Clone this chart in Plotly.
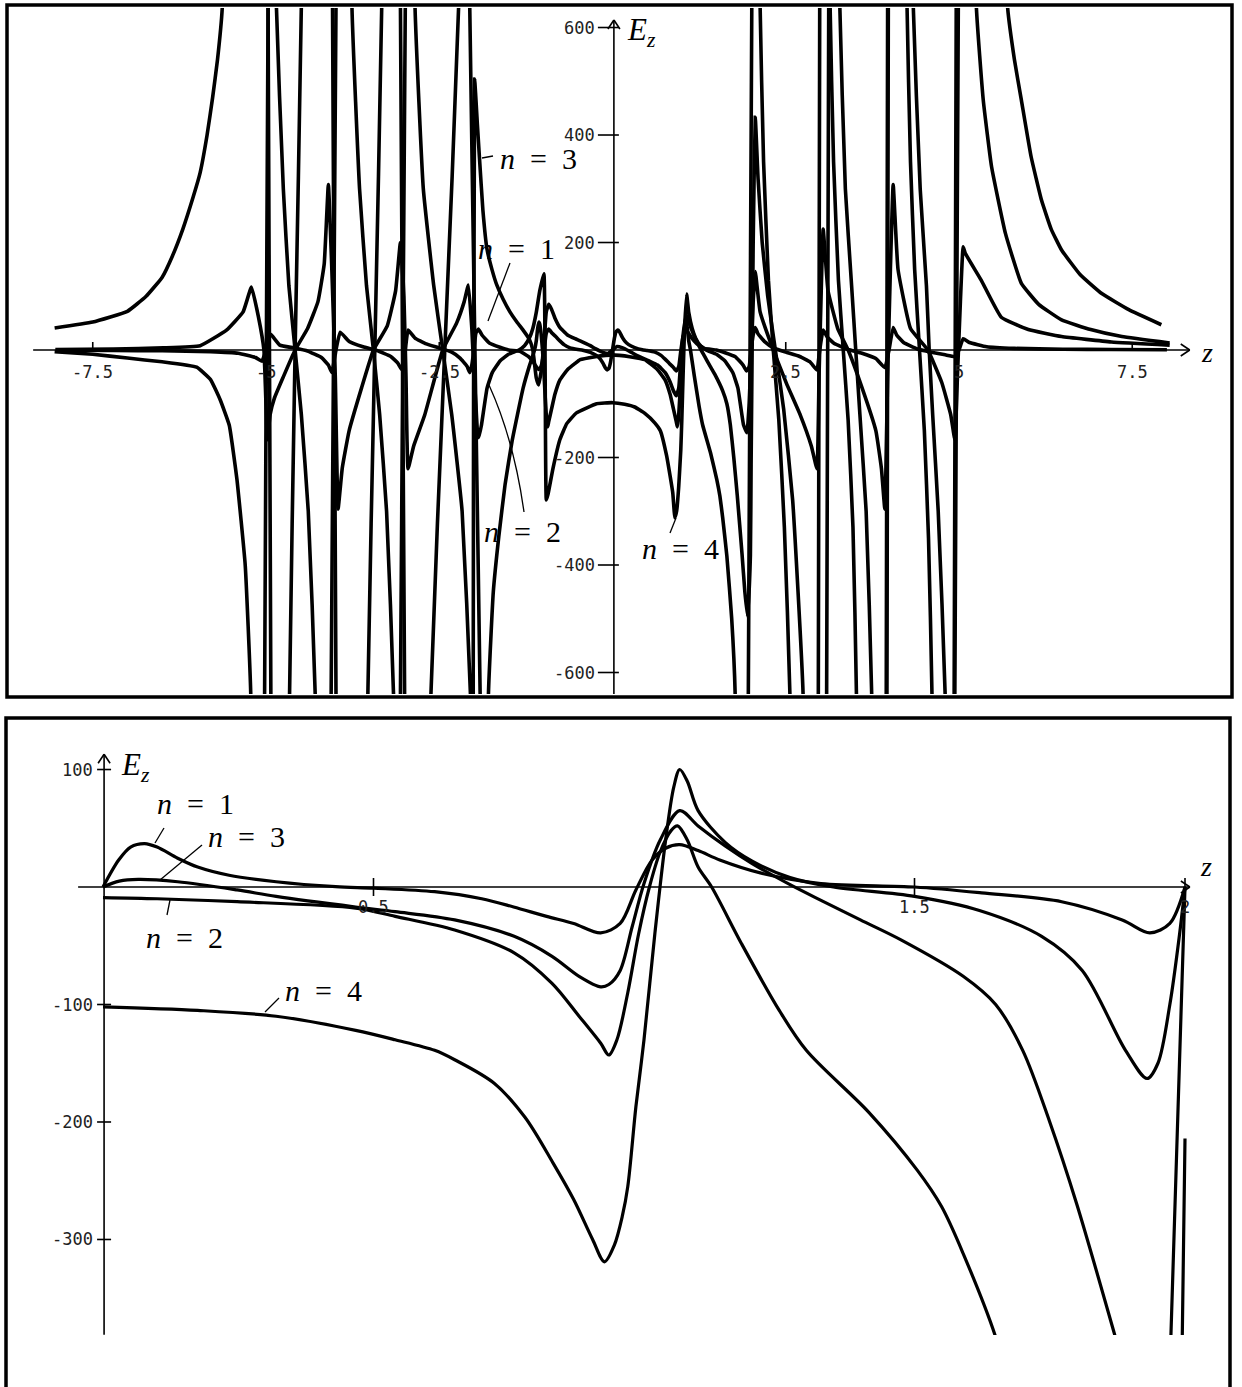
import plotly.graph_objects as go

W, H = 1242, 1387

# ---------------- TOP PANEL DATA (z, E_z) ----------------
top_n1 = [(-8.0,-0.5),(-7.2,-1),(-6.5,-1.5),(-5.8,-3),(-5.4,-6),(-5.15,-14),(-5.06,-21),(-5.0,0),(-4.94,30),(-4.8,9),(-4.6,4),(-4.4,-2),(-4.2,-14),(-4.1,-28),(-4.05,-42),(-3.99,0),(-3.93,33),(-3.8,16),(-3.6,6),(-3.4,-1),(-3.2,-12),(-3.1,-24),(-3.04,-37),(-2.99,0),(-2.95,37),(-2.85,22),(-2.7,12),(-2.5,4),(-2.32,-4),(-2.2,-15),(-2.1,-30),(-2.06,-42),(-2.03,-28),(-2.0,0),(-1.972,31),(-1.935,39),(-1.884,28),(-1.772,12.5),(-1.624,5),(-1.5,0),(-1.327,-3),(-1.215,-12),(-1.14,-23),(-1.10,-31),(-1.066,-36),(-1.04,-33),(-1.015,-23),(-0.985,2.5),(-0.956,31),(-0.92,39),(-0.87,31),(-0.82,25),(-0.759,17),(-0.70,10),(-0.613,4),(-0.5,1),(-0.43,-0.3),(-0.32,-4.5),(-0.233,-10),(-0.175,-17),(-0.138,-24.5),(-0.10,-34),(-0.077,-37),(-0.051,-34),(-0.029,-23),
(0,0),(0.029,23),(0.051,34),(0.077,37),(0.10,34),(0.138,24.5),(0.175,17),(0.233,10),(0.32,4.5),(0.43,0.3),(0.5,-1),(0.613,-4),(0.70,-10),(0.759,-17),(0.82,-25),(0.87,-31),(0.92,-39),(0.956,-31),(0.985,-2.5),(1.015,23),(1.04,33),(1.066,36),(1.10,31),(1.14,23),(1.215,12),(1.327,3),(1.5,0),(1.624,-5),(1.772,-12.5),(1.884,-28),(1.935,-39),(1.972,-31),(2.0,0),(2.03,28),(2.06,42),(2.1,30),(2.2,15),(2.32,4),(2.5,-4),(2.7,-12),(2.85,-22),(2.95,-37),(2.99,0),(3.04,37),(3.1,24),(3.2,12),(3.4,1),(3.6,-6),(3.8,-16),(3.93,-33),(3.99,0),(4.05,42),(4.1,28),(4.2,14),(4.4,2),(4.6,-4),(4.8,-9),(4.94,-12),(5.0,0),(5.06,21),(5.15,14),(5.4,6),(5.8,3),(6.5,1.5),(7.2,1),(8.0,0.5)]

top_n2 = [(-8.05,41),(-7.5,52),(-7.0,72),(-6.73,100),(-6.5,135),(-6.35,175),(-6.2,225),(-6.05,285),(-5.95,330),(-5.85,400),(-5.77,470),(-5.7,540),(-5.63,640),(-5.6,2500),(-5.0,2500),(-4.97,640),(-4.93,-640),(-4.90,-2500),(-4.69,-2500),(-4.66,-640),(-4.58,0),(-4.49,640),(-4.46,2500),(-4.08,2500),(-4.04,640),(-3.99,-640),(-3.96,-2500),(-3.56,-2500),(-3.53,-640),(-3.43,0),(-3.33,640),(-3.30,2500),(-3.09,2500),(-3.06,640),(-3.00,-640),(-2.97,-2500),(-2.65,-2500),(-2.62,-640),(-2.42,0),(-2.22,640),(-2.18,2500),(-2.09,2500),(-2.06,640),(-1.91,-640),(-1.87,-2500),(-1.82,-2500),(-1.79,-640),(-1.72,-450),(-1.64,-346),(-1.55,-250),(-1.45,-170),(-1.29,-71),(-1.2,-30),(-1.125,0),(-1.10,17),(-1.08,40),(-1.062,52),(-1.05,48),(-1.03,30),(-1.01,0),(-0.99,-40),(-0.97,-90),(-0.95,-130),(-0.935,-143),(-0.92,-133),(-0.88,-110),(-0.83,-82),(-0.76,-56),(-0.65,-36.6),(-0.54,-25),(-0.467,-18),(-0.248,-12.5),(-0.1,-10),
(0,-9),(0.1,-10),(0.248,-12.5),(0.467,-18),(0.54,-25),(0.65,-36.6),(0.76,-56),(0.83,-82),(0.88,-110),(0.92,-133),(0.935,-143),(0.95,-130),(0.97,-90),(0.99,-40),(1.01,0),(1.03,30),(1.05,48),(1.062,52),(1.08,40),(1.10,17),(1.125,0),(1.18,-48),(1.25,-105),(1.30,-139),(1.416,-192),(1.505,-241),(1.55,-272),(1.59,-312),(1.65,-383),(1.72,-500),(1.77,-640),(1.81,-2500),(1.93,-2500),(1.96,-640),(2.01,640),(2.05,2500),(2.10,2500),(2.13,640),(2.18,350),(2.25,130),(2.32,0),(2.40,-130),(2.48,-330),(2.56,-640),(2.60,-2500),(2.94,-2500),(2.97,-640),(2.99,640),(3.03,2500),(3.10,2500),(3.14,640),(3.19,350),(3.26,130),(3.33,0),(3.40,-130),(3.47,-330),(3.52,-640),(3.56,-2500),(3.93,-2500),(3.96,-640),(3.98,640),(4.02,2500),(4.21,2500),(4.25,640),(4.30,350),(4.36,150),(4.43,0),(4.50,-150),(4.56,-350),(4.61,-640),(4.65,-2500),(4.91,-2500),(4.94,-640),(4.99,640),(5.03,2500),(5.62,2500),(5.70,640),(5.80,540),(5.90,465),(6.04,360),(6.19,279),(6.33,225),(6.48,186),(6.75,140),(7.06,105),(7.45,75),(7.92,47)]

top_n3 = [(-8.05,-3),(-7.5,-8),(-7.0,-15),(-6.5,-22),(-6.0,-32),(-5.8,-55),(-5.66,-93),(-5.53,-140),(-5.42,-240),(-5.3,-400),(-5.22,-640),(-5.19,-2500),(-5.05,-2500),(-5.02,-640),(-4.97,640),(-4.94,2500),(-4.88,2500),(-4.85,640),(-4.75,300),(-4.67,120),(-4.58,0),(-4.49,-120),(-4.39,-300),(-4.29,-640),(-4.26,-2500),(-4.09,-2500),(-4.06,-640),(-3.99,640),(-3.96,2500),(-3.79,2500),(-3.76,640),(-3.65,300),(-3.55,120),(-3.45,0),(-3.36,-120),(-3.26,-300),(-3.16,-640),(-3.13,-2500),(-3.09,-2500),(-3.06,-640),(-2.99,640),(-2.96,2500),(-2.88,2500),(-2.85,640),(-2.73,300),(-2.58,120),(-2.45,0),(-2.32,-120),(-2.17,-300),(-2.05,-640),(-2.03,-1200),(-2.01,-640),(-1.99,504),(-1.95,420),(-1.92,358),(-1.87,260),(-1.81,187),(-1.74,150),(-1.67,121),(-1.58,95),(-1.48,71),(-1.38,52),(-1.29,37),(-1.2,20),(-1.15,0),(-1.10,-52),(-1.066,-65),(-1.03,-40),(-1.0,-3),(-0.978,34),(-0.956,71),(-0.92,85),(-0.88,76),(-0.83,59),(-0.76,42),(-0.65,28),(-0.54,21),(-0.467,17),(-0.32,8),(-0.248,2.5),(-0.138,-4.5),(-0.065,-6.5),
(0,0),(0.065,6.5),(0.138,4.5),(0.248,-2.5),(0.32,-8),(0.467,-17),(0.54,-21),(0.65,-28),(0.76,-42),(0.83,-59),(0.88,-76),(0.92,-85),(0.956,-71),(0.978,-34),(1.0,3),(1.03,40),(1.066,65),(1.10,52),(1.15,35),(1.2,20),(1.27,2),(1.33,-12),(1.40,-28),(1.475,-45),(1.59,-76),(1.65,-100),(1.70,-139),(1.75,-200),(1.80,-270),(1.87,-381),(1.91,-450),(1.95,-496),(1.99,-381),(2.0,-214),(2.03,200),(2.06,433),(2.10,320),(2.16,200),(2.24,100),(2.35,0),(2.47,-110),(2.60,-280),(2.75,-640),(2.79,-2500),(3.05,-2500),(3.09,-640),(3.12,640),(3.16,2500),(3.24,2500),(3.28,640),(3.36,300),(3.45,120),(3.51,0),(3.57,-120),(3.66,-300),(3.74,-640),(3.78,-2500),(3.92,-2500),(3.95,-640),(3.97,640),(4.0,2500),(4.30,2500),(4.34,640),(4.44,300),(4.53,120),(4.57,0),(4.62,-120),(4.70,-300),(4.80,-640),(4.84,-2500),(4.90,-2500),(4.93,-640),(4.96,640),(4.99,2500),(5.21,2500),(5.25,640),(5.35,465),(5.47,341),(5.67,217),(5.90,124),(6.15,85),(6.48,56),(6.9,38),(7.35,25),(8.04,13)]

top_n4 = [(-8.04,1),(-7.2,2),(-6.48,4),(-5.95,8),(-5.57,37),(-5.33,71),(-5.21,117),(-5.11,62),(-5.03,0),(-4.98,-167),(-4.94,-120),(-4.88,-90),(-4.75,-50),(-4.58,0),(-4.40,40),(-4.25,90),(-4.16,160),(-4.10,308),(-4.05,150),(-4.00,-50),(-3.96,-296),(-3.90,-220),(-3.80,-150),(-3.62,-70),(-3.45,0),(-3.25,45),(-3.13,110),(-3.06,200),(-3.01,100),(-2.98,-50),(-2.95,-221),(-2.87,-179),(-2.71,-121),(-2.45,0),(-2.25,50),(-2.14,90),(-2.08,121),(-2.03,40),(-2.0,-40),(-1.972,-100),(-1.95,-150),(-1.93,-163),(-1.89,-139),(-1.81,-71),(-1.735,-42),(-1.62,-20),(-1.5,-8),(-1.35,0),(-1.27,8),(-1.2,22),(-1.15,40),(-1.10,70),(-1.05,110),(-0.99,142),(-0.955,-279),(-0.93,-268),(-0.86,-221),(-0.76,-167),(-0.66,-137),(-0.52,-117),(-0.23,-100),
(0,-98),(0.175,-101),(0.32,-106),(0.467,-118),(0.613,-136),(0.69,-150),(0.78,-196),(0.832,-235),(0.87,-266),(0.90,-312),(0.925,-300),(0.955,-255),(0.985,-187),(1.0,-130),(1.02,-40),(1.04,40),(1.07,104),(1.10,70),(1.15,40),(1.2,22),(1.27,8),(1.35,0),(1.5,-8),(1.62,-20),(1.735,-42),(1.81,-71),(1.89,-139),(1.94,-154),(1.972,-100),(1.99,-40),(2.0,0),(2.03,90),(2.06,146),(2.13,71),(2.32,0),(2.51,-62),(2.71,-121),(2.87,-179),(2.95,-221),(2.98,-50),(3.01,100),(3.04,225),(3.11,110),(3.25,40),(3.40,0),(3.6,-70),(3.8,-150),(3.88,-220),(3.93,-296),(3.97,-50),(4.01,150),(4.05,308),(4.12,150),(4.3,40),(4.55,0),(4.75,-60),(4.88,-120),(4.94,-167),(4.98,-40),(5.02,90),(5.06,192),(5.09,180),(5.32,130),(5.61,61),(6.0,38),(6.48,25),(7.2,15),(8.04,9)]

# ---------------- BOTTOM PANEL DATA (z in [0,2]) ----------------
bot_n1 = [(0,0),(0.029,23),(0.051,34),(0.077,37),(0.10,34),(0.138,24.5),(0.175,17),(0.233,10),(0.32,4.5),(0.43,0.3),(0.5,-1),(0.613,-4),(0.70,-10),(0.759,-17),(0.82,-25),(0.87,-31),(0.92,-39),(0.956,-31),(0.985,-2.5),(1.015,23),(1.04,33),(1.066,36),(1.10,31),(1.14,23),(1.215,12),(1.327,3),(1.5,0),(1.624,-5),(1.772,-12.5),(1.884,-28),(1.935,-39),(1.972,-31),(2.0,0)]
bot_n2 = [(0,-9),(0.1,-10),(0.248,-12.5),(0.467,-18),(0.54,-25),(0.65,-36.6),(0.76,-56),(0.83,-82),(0.88,-110),(0.92,-133),(0.935,-143),(0.95,-130),(0.97,-90),(0.99,-40),(1.01,0),(1.03,30),(1.05,48),(1.062,52),(1.08,40),(1.10,17),(1.125,0),(1.18,-48),(1.25,-105),(1.30,-139),(1.416,-192),(1.505,-241),(1.55,-272),(1.59,-312),(1.65,-383),(1.70,-470),(None,None),(1.96,-620),(1.974,-381),(2.0,0)]
bot_n3 = [(0,0),(0.03,5),(0.065,6.5),(0.138,4.5),(0.248,-2.5),(0.32,-8),(0.467,-17),(0.54,-21),(0.65,-28),(0.76,-42),(0.83,-59),(0.88,-76),(0.92,-85),(0.935,-83),(0.956,-71),(0.978,-34),(1.0,3),(1.03,40),(1.066,65),(1.10,52),(1.15,35),(1.2,20),(1.27,2),(1.33,-12),(1.40,-28),(1.475,-45),(1.59,-76),(1.65,-100),(1.70,-139),(1.75,-200),(1.80,-270),(1.87,-381),(1.90,-430),(None,None),(1.993,-430),(1.995,-381),(2.0,-214)]
bot_n4 = [(0,-102),(0.175,-105),(0.32,-110),(0.467,-122),(0.54,-130),(0.613,-139),(0.65,-147),(0.723,-167),(0.78,-196),(0.832,-235),(0.87,-266),(0.905,-300),(0.927,-319),(0.945,-305),(0.96,-280),(0.97,-255),(0.985,-187),(1.0,-130),(1.02,-40),(1.04,40),(1.055,85),(1.066,100),(1.08,90),(1.10,65),(1.15,38),(1.2,22),(1.27,8),(1.35,0),(1.5,-8),(1.62,-20),(1.735,-42),(1.81,-71),(1.89,-139),(1.93,-163),(1.95,-150),(1.972,-100),(1.99,-40),(2.0,0)]

# tick labels
top_xticks = [-7.5, -5, -2.5, 2.5, 5, 7.5]
top_yticks = [600, 400, 200, -200, -400, -600]
bot_xticks = [0.5, 1.5, 2]
bot_yticks = [100, -100, -200, -300]

# ---------------- FIGURE ----------------
fig = go.Figure()

def add_curve(pairs, name, xa, ya, width, shape="linear", smoothing=1.0):
    zs = [p[0] for p in pairs]
    vs = [p[1] for p in pairs]
    fig.add_trace(go.Scatter(x=zs, y=vs, mode="lines", name=name, xaxis=xa, yaxis=ya,
                             line=dict(color="black", width=width, shape=shape, smoothing=smoothing),
                             connectgaps=False, hoverinfo="skip"))

for nm, d in [("n=1", top_n1), ("n=2", top_n2), ("n=3", top_n3), ("n=4", top_n4)]:
    add_curve(d, nm, "x", "y", 3.6, shape="spline", smoothing=0.35)
for nm, d in [("n=1", bot_n1), ("n=2", bot_n2), ("n=3", bot_n3), ("n=4", bot_n4)]:
    add_curve(d, nm, "x2", "y2", 3.2, shape="spline", smoothing=0.9)

def px(x):
    return x / W
def py(y):
    return 1 - y / H

shapes = []
ann = []

# panel boxes
shapes.append(dict(type="rect", xref="paper", yref="paper", x0=px(7), x1=px(1232), y0=py(697), y1=py(5),
                   line=dict(color="black", width=3.5)))
shapes.append(dict(type="rect", xref="paper", yref="paper", x0=px(6), x1=px(1230), y0=py(1400), y1=py(718),
                   line=dict(color="black", width=3.5)))

axline = dict(color="black", width=1.6)
tickfont = dict(family="DejaVu Sans Mono", size=17, color="#222")

# top axes (data coords)
shapes.append(dict(type="line", xref="x", yref="y", x0=-8.36, x1=8.33, y0=0, y1=0, line=axline))
shapes.append(dict(type="line", xref="x", yref="y", x0=0.02, x1=0.02, y0=-640, y1=614, line=axline))
for sx in (-1, 1):
    shapes.append(dict(type="line", xref="x", yref="y", xsizemode="pixel", ysizemode="pixel",
                       xanchor=8.33, yanchor=0, x0=-9, x1=0, y0=6*sx, y1=0, line=axline))
    shapes.append(dict(type="line", xref="x", yref="y", xsizemode="pixel", ysizemode="pixel",
                       xanchor=0.02, yanchor=614, x0=6*sx, x1=0, y0=-9, y1=0, line=axline))
for t in top_yticks:
    shapes.append(dict(type="line", xref="x", yref="y", xsizemode="pixel", xanchor=0.02,
                       x0=-16, x1=5, y0=t, y1=t, line=axline))
    ann.append(dict(xref="x", yref="y", x=0.02, y=t, xshift=-17, text=str(t), showarrow=False,
                    xanchor="right", yanchor="middle", font=tickfont))
for t in top_xticks:
    shapes.append(dict(type="line", xref="x", yref="y", ysizemode="pixel", yanchor=0,
                       x0=t, x1=t, y0=0, y1=8, line=axline))
    ann.append(dict(xref="x", yref="y", x=t, y=0, yshift=-22, text=str(t), showarrow=False,
                    xanchor="center", yanchor="middle", font=tickfont))

# bottom axes
shapes.append(dict(type="line", xref="x2", yref="y2", x0=-0.046, x1=2.009, y0=0, y1=0, line=axline))
shapes.append(dict(type="line", xref="x2", yref="y2", x0=0.002, x1=0.002, y0=-381, y1=113, line=axline))
for sx in (-1, 1):
    shapes.append(dict(type="line", xref="x2", yref="y2", xsizemode="pixel", ysizemode="pixel",
                       xanchor=2.009, yanchor=0, x0=-9, x1=0, y0=6*sx, y1=0, line=axline))
    shapes.append(dict(type="line", xref="x2", yref="y2", xsizemode="pixel", ysizemode="pixel",
                       xanchor=0.002, yanchor=113, x0=6*sx, x1=0, y0=-9, y1=0, line=axline))
for t in bot_yticks:
    shapes.append(dict(type="line", xref="x2", yref="y2", xsizemode="pixel", xanchor=0.002,
                       x0=-7, x1=7, y0=t, y1=t, line=axline))
    ann.append(dict(xref="x2", yref="y2", x=0.002, y=t, xshift=-9, text=str(t), showarrow=False,
                    xanchor="right", yanchor="middle", font=tickfont))
for t in bot_xticks:
    shapes.append(dict(type="line", xref="x2", yref="y2", ysizemode="pixel", yanchor=0,
                       x0=t, x1=t, y0=-9, y1=9, line=axline))
    ann.append(dict(xref="x2", yref="y2", x=t, y=0, yshift=-20, text=str(t), showarrow=False,
                    xanchor="center", yanchor="middle", font=tickfont))

# leader lines (thin)
thin = dict(color="black", width=1.3)
for (x0, y0, x1, y1) in [(482,158,493,156),(510,263,488,321),(670,533,676,518),
                         (155,843,164,828),(160,880,202,845),(170,900,167,915),(265,1012,279,998)]:
    shapes.append(dict(type="line", xref="paper", yref="paper", x0=px(x0), y0=py(y0), x1=px(x1), y1=py(y1), line=thin))
shapes.append(dict(type="path", xref="paper", yref="paper",
                   path=f"M {px(524)},{py(512)} Q {px(514)},{py(440)} {px(489)},{py(385)}", line=thin))

serif = "Liberation Serif, DejaVu Serif, serif"
def label(x, y, text, size=30, anchor="center"):
    ann.append(dict(xref="paper", yref="paper", x=px(x), y=py(y), text=text, showarrow=False,
                    xanchor=anchor, yanchor="middle", font=dict(family=serif, size=size, color="black")))

eq = "<i>n</i>\u2002=\u2002"
label(538, 158, eq + "3")
label(516, 248, eq + "1")
label(522, 531, eq + "2")
label(680, 548, eq + "4")
label(625, 32, "<i>E<sub>z</sub></i>", size=31, anchor="left")
label(1207, 352, "<i>z</i>", size=28)
label(195, 803, eq + "1")
label(246, 836, eq + "3")
label(184, 937, eq + "2")
label(323, 990, eq + "4")
label(119, 767, "<i>E<sub>z</sub></i>", size=31, anchor="left")
label(1206, 866, "<i>z</i>", size=28)

fig.update_layout(
    width=W, height=H, margin=dict(l=0, r=0, t=0, b=0),
    paper_bgcolor="white", plot_bgcolor="white", showlegend=False,
    xaxis=dict(domain=[9/W, 1230/W], range=[-8.7085, 8.9105], visible=False, fixedrange=True),
    yaxis=dict(domain=[1-694/H, 1-8/H], range=[-640.0, 636.3], visible=False, fixedrange=True),
    xaxis2=dict(domain=[9/W, 1227/W], range=[-0.17375, 2.07763], visible=False, anchor="y2"),
    yaxis2=dict(domain=[1-1335/H, 1-721/H], range=[-381.3, 141.3], visible=False, anchor="x2"),
    shapes=shapes, annotations=ann,
)

fig.write_html("out.html")
